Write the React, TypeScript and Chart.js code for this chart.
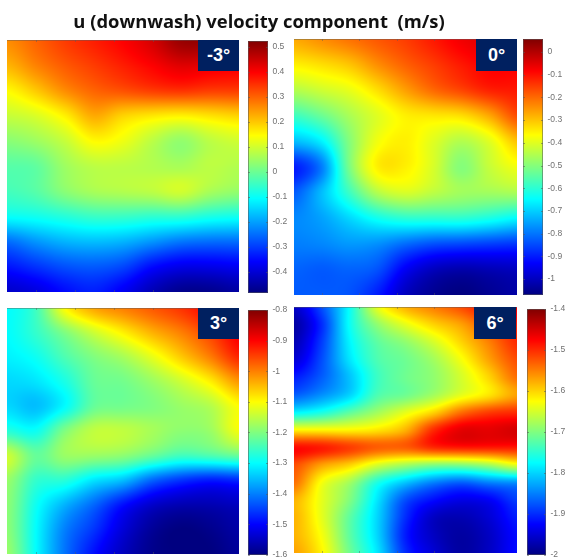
import React, { useEffect, useRef } from "react";
import { Chart, registerables } from "chart.js";

Chart.register(...registerables);

const title = "u (downwash) velocity component  (m/s)";

const gridMinus3 = [
  [0.26, 0.30, 0.34, 0.37, 0.40, 0.44, 0.50, 0.50, 0.47],
  [0.22, 0.27, 0.31, 0.34, 0.37, 0.40, 0.43, 0.42, 0.41],
  [0.15, 0.20, 0.26, 0.30, 0.32, 0.34, 0.35, 0.34, 0.34],
  [0.09, 0.11, 0.16, 0.23, 0.19, 0.17, 0.16, 0.175, 0.19],
  [0.03, 0.05, 0.09, 0.15, 0.13, 0.08, 0.04, 0.08, 0.10],
  [-0.02, -0.01, 0.05, 0.08, 0.08, 0.07, 0.06, 0.08, 0.07],
  [-0.04, -0.02, 0.03, 0.06, 0.07, 0.08, 0.10, 0.06, 0.04],
  [-0.10, -0.09, -0.07, -0.05, -0.05, -0.06, -0.06, -0.08, -0.09],
  [-0.25, -0.21, -0.18, -0.17, -0.18, -0.21, -0.24, -0.25, -0.25],
  [-0.34, -0.31, -0.28, -0.27, -0.29, -0.35, -0.38, -0.38, -0.37],
  [-0.41, -0.39, -0.35, -0.33, -0.37, -0.43, -0.47, -0.47, -0.45],
];
const grid0 = [
  [-0.27, -0.24, -0.21, -0.18, -0.15, -0.11, -0.07, -0.05, -0.06],
  [-0.35, -0.33, -0.30, -0.24, -0.19, -0.15, -0.11, -0.08, -0.08],
  [-0.45, -0.42, -0.39, -0.33, -0.26, -0.20, -0.16, -0.12, -0.11],
  [-0.58, -0.53, -0.46, -0.40, -0.35, -0.34, -0.33, -0.27, -0.17],
  [-0.72, -0.66, -0.50, -0.38, -0.35, -0.40, -0.45, -0.40, -0.30],
  [-0.90, -0.79, -0.51, -0.35, -0.35, -0.41, -0.50, -0.43, -0.38],
  [-0.83, -0.72, -0.58, -0.45, -0.41, -0.44, -0.47, -0.47, -0.46],
  [-0.78, -0.75, -0.69, -0.63, -0.60, -0.60, -0.60, -0.62, -0.65],
  [-0.79, -0.78, -0.76, -0.77, -0.81, -0.84, -0.85, -0.86, -0.87],
  [-0.82, -0.83, -0.82, -0.84, -0.94, -1.00, -1.02, -1.01, -1.00],
  [-0.83, -0.83, -0.84, -0.90, -1.00, -1.05, -1.07, -1.05, -1.03],
];
const grid3 = [
  [-1.30, -1.25, -1.10, -1.03, -1.00, -0.97, -0.94, -0.90, -0.87],
  [-1.30, -1.26, -1.20, -1.14, -1.09, -1.04, -1.00, -0.95, -0.89],
  [-1.31, -1.29, -1.24, -1.20, -1.17, -1.12, -1.06, -1.00, -0.93],
  [-1.33, -1.32, -1.28, -1.22, -1.21, -1.18, -1.14, -1.09, -1.02],
  [-1.33, -1.35, -1.30, -1.22, -1.21, -1.20, -1.18, -1.16, -1.10],
  [-1.27, -1.29, -1.20, -1.15, -1.15, -1.17, -1.19, -1.18, -1.11],
  [-1.14, -1.22, -1.18, -1.18, -1.19, -1.22, -1.25, -1.24, -1.22],
  [-1.18, -1.26, -1.27, -1.32, -1.35, -1.42, -1.46, -1.48, -1.47],
  [-1.19, -1.29, -1.36, -1.42, -1.49, -1.54, -1.56, -1.56, -1.55],
  [-1.19, -1.30, -1.40, -1.46, -1.53, -1.58, -1.60, -1.59, -1.57],
  [-1.18, -1.30, -1.41, -1.49, -1.55, -1.59, -1.60, -1.60, -1.58],
];
const grid6 = [
  [-1.96, -1.88, -1.77, -1.64, -1.58, -1.55, -1.52, -1.48, -1.46],
  [-1.98, -1.90, -1.77, -1.69, -1.64, -1.60, -1.57, -1.52, -1.49],
  [-1.97, -1.89, -1.78, -1.72, -1.69, -1.65, -1.60, -1.55, -1.50],
  [-1.95, -1.88, -1.79, -1.73, -1.71, -1.68, -1.63, -1.57, -1.52],
  [-1.91, -1.87, -1.81, -1.74, -1.71, -1.69, -1.65, -1.60, -1.54],
  [-1.87, -1.84, -1.80, -1.73, -1.71, -1.68, -1.64, -1.61, -1.57],
  [-1.78, -1.76, -1.72, -1.68, -1.64, -1.60, -1.54, -1.51, -1.50],
  [-1.62, -1.62, -1.62, -1.61, -1.58, -1.50, -1.46, -1.46, -1.45],
  [-1.48, -1.49, -1.51, -1.53, -1.53, -1.50, -1.49, -1.49, -1.49],
  [-1.52, -1.57, -1.60, -1.65, -1.68, -1.70, -1.70, -1.68, -1.64],
  [-1.54, -1.63, -1.68, -1.76, -1.81, -1.85, -1.87, -1.85, -1.84],
  [-1.58, -1.64, -1.70, -1.79, -1.88, -1.92, -1.94, -1.93, -1.89],
  [-1.58, -1.64, -1.72, -1.80, -1.90, -1.96, -1.97, -1.95, -1.91],
  [-1.58, -1.63, -1.72, -1.80, -1.91, -1.96, -1.98, -1.96, -1.92],
  [-1.57, -1.62, -1.71, -1.79, -1.90, -1.95, -1.98, -1.96, -1.92],
];

const ticksMinus3 = [0.5, 0.4, 0.3, 0.2, 0.1, 0, -0.1, -0.2, -0.3, -0.4];
const ticks0 = [0, -0.1, -0.2, -0.3, -0.4, -0.5, -0.6, -0.7, -0.8, -0.9, -1];
const ticks3 = [-0.8, -0.9, -1, -1.1, -1.2, -1.3, -1.4, -1.5, -1.6];
const ticks6 = [-1.4, -1.5, -1.6, -1.7, -1.8, -1.9, -2];
const heatTicks = [1, 2.34, 3.68, 5.03];

const panels = [
  { label: "-3°", grid: gridMinus3, ticks: ticksMinus3, min: -0.484, max: 0.524,
    heat: [7, 40, 232, 252], bar: [248, 41, 20, 252], box: [198, 40, 41, 31] },
  { label: "0°", grid: grid0, ticks: ticks0, min: -1.07, max: 0.057,
    heat: [294, 39, 223, 256], bar: [523, 39, 20, 256], box: [476, 39, 41, 32] },
  { label: "3°", grid: grid3, ticks: ticks3, min: -1.6, max: -0.8,
    heat: [7, 308, 232, 246], bar: [248, 310, 20, 245], box: [198, 308, 41, 31] },
  { label: "6°", grid: grid6, ticks: ticks6, min: -2, max: -1.4,
    heat: [294, 307, 223, 246], bar: [527, 309, 19, 246], box: [474, 307, 42, 32] },
];

const clamp01 = (v: number) => Math.max(0, Math.min(1, v));
const jet = (t: number) => [
  255 * clamp01(1.5 - Math.abs(4 * t - 3)),
  255 * clamp01(1.5 - Math.abs(4 * t - 2)),
  255 * clamp01(1.5 - Math.abs(4 * t - 1)),
];

const spline = (a: number, b: number, c: number, d: number, t: number) =>
  0.5 * (2 * b + (c - a) * t + (2 * a - 5 * b + 4 * c - d) * t * t + (3 * b - a - 3 * c + d) * t * t * t);

function sample(g: number[][], x: number, y: number) {
  const R = g.length - 1, C = g[0].length - 1;
  const r = Math.max(0, Math.min(R - 1e-6, y)), c = Math.max(0, Math.min(C - 1e-6, x));
  const r0 = Math.floor(r), c0 = Math.floor(c);
  const at = (i: number, j: number) => g[Math.max(0, Math.min(R, i))][Math.max(0, Math.min(C, j))];
  const row = (i: number) => spline(at(i, c0 - 1), at(i, c0), at(i, c0 + 1), at(i, c0 + 2), c - c0);
  return spline(row(r0 - 1), row(r0), row(r0 + 1), row(r0 + 2), r - r0);
}

const heatPlugin = {
  id: "heat",
  afterDatasetsDraw(chart: any) {
    const o = chart.options.plugins.heat;
    const ctx = chart.ctx;
    const { left, top, width, height, bottom } = chart.chartArea;
    const w = Math.round(width), h = Math.round(height);
    const img = ctx.createImageData(w, h);
    const sx = chart.scales.x, sy = chart.scales.y;
    const g: number[][] = [];
    for (const p of chart.data.datasets[0].data) {
      (g[p.y] = g[p.y] || [])[p.x] = p.v;
    }
    for (let j = 0; j < h; j++) {
      const yv = sy.getValueForPixel(top + j + 0.5);
      for (let i = 0; i < w; i++) {
        const v = sample(g, sx.getValueForPixel(left + i + 0.5), yv);
        const c = jet(clamp01((v - o.min) / (o.max - o.min)));
        const k = (j * w + i) * 4;
        img.data[k] = c[0]; img.data[k + 1] = c[1]; img.data[k + 2] = c[2]; img.data[k + 3] = 255;
      }
    }
    ctx.putImageData(img, left, top);
    ctx.strokeStyle = "rgba(90,90,90,0.45)";
    ctx.lineWidth = 1;
    ctx.beginPath();
    ctx.moveTo(left, top + 0.5); ctx.lineTo(left + width, top + 0.5);
    for (const t of heatTicks) {
      const px = Math.round(sx.getPixelForValue(t)) + 0.5;
      ctx.moveTo(px, top); ctx.lineTo(px, top + 2);
      ctx.moveTo(px, bottom); ctx.lineTo(px, bottom - 2);
    }
    ctx.stroke();
  },
};

const barPlugin = {
  id: "colorbar",
  afterDatasetsDraw(chart: any) {
    const ctx = chart.ctx, s = chart.scales.y, a = chart.chartArea;
    const o = chart.options.plugins.colorbar;
    for (let py = Math.floor(a.top); py < a.bottom; py++) {
      const v = s.getValueForPixel(py + 0.5);
      const c = jet(clamp01((v - o.min) / (o.max - o.min)));
      ctx.fillStyle = `rgb(${c[0]},${c[1]},${c[2]})`;
      ctx.fillRect(a.left, py, a.width, 1);
    }
    ctx.strokeStyle = "rgba(90,90,90,0.55)";
    ctx.lineWidth = 1;
    ctx.strokeRect(a.left + 0.5, a.top + 0.5, a.width - 1, a.height - 1);
    for (const t of s.ticks) {
      const py = Math.round(s.getPixelForValue(t.value)) + 0.5;
      ctx.beginPath();
      ctx.moveTo(a.left, py); ctx.lineTo(a.left + 2, py);
      ctx.moveTo(a.right - 2, py); ctx.lineTo(a.right, py);
      ctx.stroke();
    }
  },
};

function Heat({ p }: { p: any }) {
  const ref = useRef<HTMLCanvasElement>(null);
  useEffect(() => {
    const data: any[] = [];
    p.grid.forEach((row: number[], y: number) => row.forEach((v, x) => data.push({ x, y, v })));
    const chart = new Chart(ref.current!, {
      type: "scatter",
      data: { datasets: [{ data, pointRadius: 0 }] },
      plugins: [heatPlugin],
      options: {
        animation: false, responsive: false, devicePixelRatio: 1,
        layout: { padding: 0 },
        plugins: { legend: { display: false }, tooltip: { enabled: false }, heat: { min: p.min, max: p.max } } as any,
        scales: {
          x: { type: "linear", display: false, min: 0, max: p.grid[0].length - 1 },
          y: { type: "linear", display: false, reverse: true, min: 0, max: p.grid.length - 1 },
        },
      },
    });
    return () => chart.destroy();
  }, []);
  const [l, t, w, h] = p.heat;
  return <canvas ref={ref} width={w} height={h} style={{ position: "absolute", left: l, top: t, filter: "blur(0.4px)" }} />;
}

function Bar({ p }: { p: any }) {
  const ref = useRef<HTMLCanvasElement>(null);
  const [l, t, w, h] = p.bar;
  const pad = 7, extra = 22;
  useEffect(() => {
    const chart = new Chart(ref.current!, {
      type: "scatter",
      data: { datasets: [{ data: p.ticks.map((y: number) => ({ x: 0, y })), pointRadius: 0 }] },
      plugins: [barPlugin],
      options: {
        animation: false, responsive: false, devicePixelRatio: 1,
        layout: { padding: { top: pad, bottom: pad, left: 0, right: 0 } },
        plugins: { legend: { display: false }, tooltip: { enabled: false }, colorbar: { min: p.min, max: p.max } } as any,
        scales: {
          x: { type: "linear", display: false },
          y: {
            type: "linear", position: "right", min: p.min, max: p.max,
            afterBuildTicks: (s: any) => { s.ticks = p.ticks.map((value: number) => ({ value })); },
            afterFit: (s: any) => { s.width = extra; s.paddingTop = 0; s.paddingBottom = 0; },
            grid: { display: false, drawTicks: false },
            border: { display: false },
            ticks: {
              padding: 4.5, color: "#707070", autoSkip: false, maxRotation: 0, align: "center",
              font: { family: "'Liberation Sans'", size: 8.5 },
              callback: (v: any) => String(Math.round(Number(v) * 10) / 10),
            },
          },
        },
      },
    });
    return () => chart.destroy();
  }, []);
  return (
    <canvas ref={ref} width={w + extra} height={h + pad * 2}
      style={{ position: "absolute", left: l, top: t - pad, filter: "blur(0.3px)" }} />
  );
}

export default function App() {
  return (
    <div style={{ position: "absolute", left: 0, top: 0, width: 568, height: 559, background: "#fff", overflow: "hidden" }}>
      <div style={{
        position: "absolute", left: 0, top: 9, width: 518, textAlign: "center", whiteSpace: "pre",
        fontFamily: "'Open Sans'", fontWeight: 700, fontSize: 18.4, lineHeight: "24px", color: "#111", filter: "blur(0.3px)",
      }}>{title}</div>
      {panels.map((p) => (
        <React.Fragment key={p.label}>
          <Heat p={p} />
          <Bar p={p} />
          <div style={{
            position: "absolute", left: p.box[0], top: p.box[1], width: p.box[2], height: p.box[3],
            background: "#002060", color: "#fff", textAlign: "center", lineHeight: p.box[3] + "px",
            fontFamily: "'Liberation Sans'", fontWeight: 700, fontSize: 18,
          }}>{p.label}</div>
        </React.Fragment>
      ))}
    </div>
  );
}
